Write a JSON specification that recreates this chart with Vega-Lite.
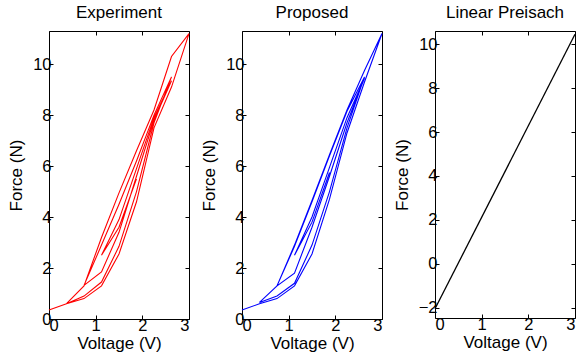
{
  "$schema": "https://vega.github.io/schema/vega-lite/v6.json",
  "background": "white",
  "padding": {"left": 7, "top": 3, "right": 0, "bottom": 3},
  "bounds": "flush",
  "spacing": 53,
  "config": {
    "font": "Liberation Sans",
    "view": {"stroke": "black", "strokeWidth": 1},
    "axis": {
      "grid": false,
      "domain": false,
      "tickColor": "black",
      "tickSize": -4,
      "labelFont": "Liberation Sans",
      "labelFontSize": 16.5,
      "labelColor": "black",
      "labelPadding": 2,
      "titleFont": "Liberation Sans",
      "titleFontSize": 17,
      "titleFontWeight": "normal",
      "titleColor": "black"
    },
    "title": {"font": "Liberation Sans", "fontSize": 17, "fontWeight": "normal", "color": "black", "offset": 9}
  },
  "datasets": {
    "exp": [
      {"i": 1, "V": 0, "F": 0.35},
      {"i": 2, "V": 0.375, "F": 0.6},
      {"i": 3, "V": 0.75, "F": 0.8},
      {"i": 4, "V": 1.125, "F": 1.3},
      {"i": 5, "V": 1.5, "F": 2.55},
      {"i": 6, "V": 1.875, "F": 4.6},
      {"i": 7, "V": 2.25, "F": 7.5},
      {"i": 8, "V": 2.625, "F": 9.1},
      {"i": 9, "V": 3, "F": 11.2},
      {"i": 10, "V": 2.625, "F": 10.3},
      {"i": 11, "V": 2.25, "F": 8.2},
      {"i": 12, "V": 1.875, "F": 6.6},
      {"i": 13, "V": 1.5, "F": 4.95},
      {"i": 14, "V": 1.125, "F": 3.2},
      {"i": 15, "V": 0.75, "F": 1.3},
      {"i": 16, "V": 0.375, "F": 0.6},
      {"i": 17, "V": 0.75, "F": 0.9},
      {"i": 18, "V": 1.125, "F": 1.45},
      {"i": 19, "V": 1.5, "F": 2.85},
      {"i": 20, "V": 1.875, "F": 5.0},
      {"i": 21, "V": 2.25, "F": 7.7},
      {"i": 22, "V": 2.625, "F": 9.5},
      {"i": 23, "V": 2.25, "F": 8.0},
      {"i": 24, "V": 1.875, "F": 6.2},
      {"i": 25, "V": 1.5, "F": 4.5},
      {"i": 26, "V": 1.125, "F": 2.9},
      {"i": 27, "V": 0.75, "F": 1.32},
      {"i": 28, "V": 1.125, "F": 1.85},
      {"i": 29, "V": 1.5, "F": 3.4},
      {"i": 30, "V": 1.875, "F": 5.6},
      {"i": 31, "V": 2.25, "F": 7.8},
      {"i": 32, "V": 2.625, "F": 9.35},
      {"i": 33, "V": 2.25, "F": 7.9},
      {"i": 34, "V": 1.875, "F": 5.9},
      {"i": 35, "V": 1.5, "F": 3.9},
      {"i": 36, "V": 1.125, "F": 2.5},
      {"i": 37, "V": 1.5, "F": 3.6},
      {"i": 38, "V": 1.875, "F": 5.5}
    ],
    "prop": [
      {"i": 1, "V": 0, "F": 0.35},
      {"i": 2, "V": 0.375, "F": 0.6},
      {"i": 3, "V": 0.75, "F": 0.8},
      {"i": 4, "V": 1.125, "F": 1.3},
      {"i": 5, "V": 1.5, "F": 2.55},
      {"i": 6, "V": 1.875, "F": 4.7},
      {"i": 7, "V": 2.25, "F": 7.3},
      {"i": 8, "V": 2.625, "F": 9.3},
      {"i": 9, "V": 3, "F": 11.2},
      {"i": 10, "V": 2.625, "F": 9.75},
      {"i": 11, "V": 2.25, "F": 8.2},
      {"i": 12, "V": 1.875, "F": 6.45},
      {"i": 13, "V": 1.5, "F": 4.65},
      {"i": 14, "V": 1.125, "F": 2.9},
      {"i": 15, "V": 0.75, "F": 1.3},
      {"i": 16, "V": 0.375, "F": 0.65},
      {"i": 17, "V": 0.75, "F": 0.9},
      {"i": 18, "V": 1.125, "F": 1.4},
      {"i": 19, "V": 1.5, "F": 2.9},
      {"i": 20, "V": 1.875, "F": 5.0},
      {"i": 21, "V": 2.25, "F": 7.5},
      {"i": 22, "V": 2.625, "F": 9.5},
      {"i": 23, "V": 2.25, "F": 8.15},
      {"i": 24, "V": 1.875, "F": 6.4},
      {"i": 25, "V": 1.5, "F": 4.6},
      {"i": 26, "V": 1.125, "F": 2.85},
      {"i": 27, "V": 0.75, "F": 1.3},
      {"i": 28, "V": 1.125, "F": 1.8},
      {"i": 29, "V": 1.5, "F": 3.6},
      {"i": 30, "V": 1.875, "F": 5.6},
      {"i": 31, "V": 2.25, "F": 7.7},
      {"i": 32, "V": 2.625, "F": 9.45},
      {"i": 33, "V": 2.25, "F": 7.9},
      {"i": 34, "V": 1.875, "F": 5.95},
      {"i": 35, "V": 1.5, "F": 4.0},
      {"i": 36, "V": 1.125, "F": 2.5},
      {"i": 37, "V": 1.5, "F": 3.8},
      {"i": 38, "V": 1.875, "F": 5.75}
    ],
    "lin": [
      {"i": 1, "V": 0, "F": -2.05},
      {"i": 2, "V": 3, "F": 10.45}
    ]
  },
  "hconcat": [
    {
      "title": "Experiment",
      "width": 140,
      "height": 288,
      "data": {"name": "exp"},
      "layer": [
        {
          "mark": {"type": "line", "color": "#ff0000", "strokeWidth": 1.1},
          "encoding": {
            "x": {"field": "V", "type": "quantitative", "scale": {"domain": [0, 3], "nice": false}, "axis": {"values": [0, 1, 2, 3], "title": "Voltage (V)", "titlePadding": 2}},
            "y": {"field": "F", "type": "quantitative", "scale": {"domain": [0, 11.3], "nice": false, "zero": false}, "axis": {"values": [0, 2, 4, 6, 8, 10], "title": "Force (N)", "titlePadding": 7}},
            "order": {"field": "i", "type": "quantitative"}
          }
        },
        {
          "mark": {"type": "line", "opacity": 0},
          "encoding": {
            "x": {"field": "V", "type": "quantitative", "axis": {"orient": "top", "values": [0, 1, 2, 3], "labels": false, "title": null}},
            "y": {"field": "F", "type": "quantitative", "axis": {"orient": "right", "values": [0, 2, 4, 6, 8, 10], "labels": false, "title": null}},
            "order": {"field": "i", "type": "quantitative"}
          }
        }
      ],
      "resolve": {"axis": {"x": "independent", "y": "independent"}}
    },
    {
      "title": "Proposed",
      "width": 140,
      "height": 288,
      "data": {"name": "prop"},
      "layer": [
        {
          "mark": {"type": "line", "color": "#0000ff", "strokeWidth": 1.1},
          "encoding": {
            "x": {"field": "V", "type": "quantitative", "scale": {"domain": [0, 3], "nice": false}, "axis": {"values": [0, 1, 2, 3], "title": "Voltage (V)", "titlePadding": 2}},
            "y": {"field": "F", "type": "quantitative", "scale": {"domain": [0, 11.3], "nice": false, "zero": false}, "axis": {"values": [0, 2, 4, 6, 8, 10], "title": "Force (N)", "titlePadding": 7}},
            "order": {"field": "i", "type": "quantitative"}
          }
        },
        {
          "mark": {"type": "line", "opacity": 0},
          "encoding": {
            "x": {"field": "V", "type": "quantitative", "axis": {"orient": "top", "values": [0, 1, 2, 3], "labels": false, "title": null}},
            "y": {"field": "F", "type": "quantitative", "axis": {"orient": "right", "values": [0, 2, 4, 6, 8, 10], "labels": false, "title": null}},
            "order": {"field": "i", "type": "quantitative"}
          }
        }
      ],
      "resolve": {"axis": {"x": "independent", "y": "independent"}}
    },
    {
      "title": "Linear Preisach",
      "width": 140,
      "height": 287,
      "data": {"name": "lin"},
      "layer": [
        {
          "mark": {"type": "line", "color": "#000000", "strokeWidth": 1.3},
          "encoding": {
            "x": {"field": "V", "type": "quantitative", "scale": {"domain": [0, 3], "nice": false}, "axis": {"values": [0, 1, 2, 3], "title": "Voltage (V)", "titlePadding": 2}},
            "y": {"field": "F", "type": "quantitative", "scale": {"domain": [-2.47, 10.6], "nice": false, "zero": false}, "axis": {"values": [-2, 0, 2, 4, 6, 8, 10], "title": "Force (N)", "titlePadding": 7}},
            "order": {"field": "i", "type": "quantitative"}
          }
        },
        {
          "mark": {"type": "line", "opacity": 0},
          "encoding": {
            "x": {"field": "V", "type": "quantitative", "axis": {"orient": "top", "values": [0, 1, 2, 3], "labels": false, "title": null}},
            "y": {"field": "F", "type": "quantitative", "axis": {"orient": "right", "values": [-2, 0, 2, 4, 6, 8, 10], "labels": false, "title": null}},
            "order": {"field": "i", "type": "quantitative"}
          }
        }
      ],
      "resolve": {"axis": {"x": "independent", "y": "independent"}}
    }
  ]
}
